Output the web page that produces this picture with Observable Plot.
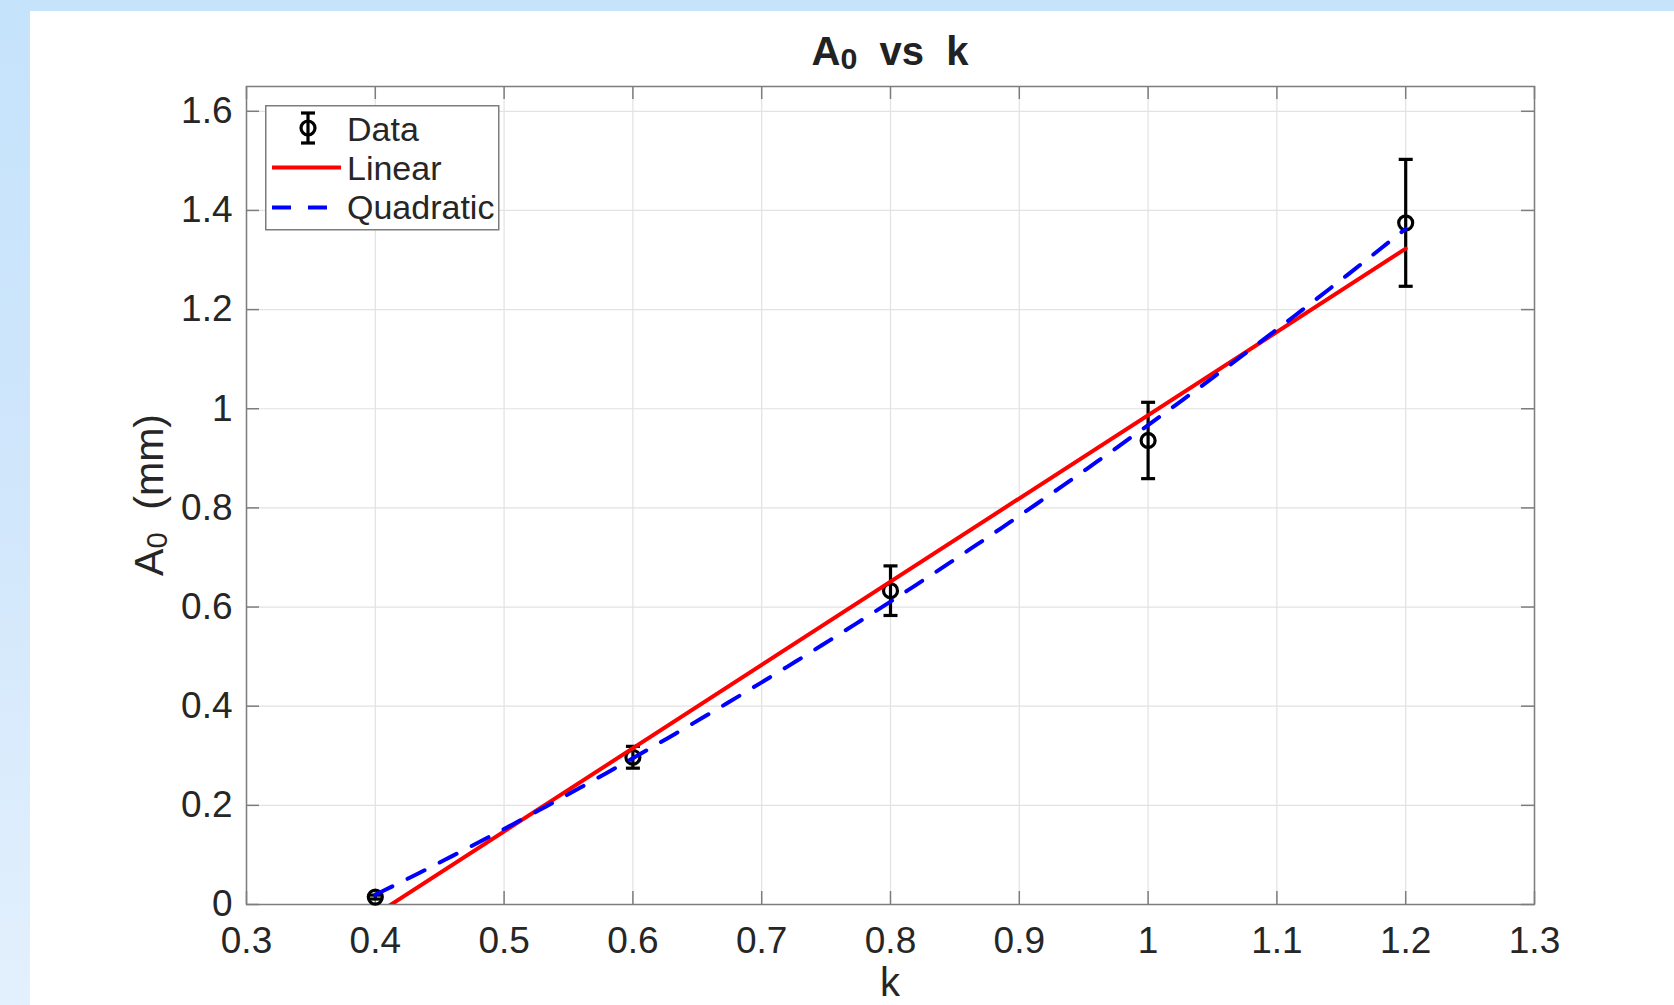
<!DOCTYPE html>
<html>
<head>
<meta charset="utf-8">
<script src="https://cdn.jsdelivr.net/npm/d3@7"></script>
<script src="https://cdn.jsdelivr.net/npm/@observablehq/plot@0.6"></script>
<style>
  html, body { margin: 0; padding: 0; width: 1674px; height: 1005px; overflow: hidden; }
  body {
    background: linear-gradient(to bottom, #c5e3fb 0%, #cfe6fb 45%, #e3f0fd 100%);
    font-family: "Liberation Sans", Arial, Helvetica, sans-serif;
  }
  #panel { position: absolute; left: 30px; top: 11px; width: 1644px; height: 994px; background: #fff; }
  #title {
    position: absolute; left: 860px; top: 20px; transform: translateX(-50%);
    font-size: 40px; line-height: 40px; font-weight: bold; color: #222;
    white-space: pre;
  }
  #title sub { font-size: 0.76em; line-height: 0; vertical-align: -4px; }
  #chart { position: absolute; left: 0; top: 64px; }
  #legend { position: absolute; left: 235px; top: 94px; }
</style>
</head>
<body>
<div id="panel">
  <div id="title">A<sub>0</sub>  vs  k</div>
  <div id="chart"></div>
  <svg id="legend" width="236" height="127"></svg>
</div>
<script>
// Measurements: amplitude A0 (mm) against k, with error bars
const kValues = [0.4, 0.6, 0.8, 1.0, 1.2];
const a0Values = [0.015, 0.297, 0.633, 0.936, 1.375];
const a0Errors = [0.004, 0.022, 0.05, 0.077, 0.128];

// Axis ticks
const xTicks = [0.3, 0.4, 0.5, 0.6, 0.7, 0.8, 0.9, 1, 1.1, 1.2, 1.3];
const yTicks = [0, 0.2, 0.4, 0.6, 0.8, 1, 1.2, 1.4, 1.6];

const seriesNames = ["Data", "Linear", "Quadratic"];

const rows = kValues.map((k, i) => ({k, a0: a0Values[i], err: a0Errors[i]}));

// Least-squares quadratic fit a0 = c0 + c1 k + c2 k^2
function quadFit(xs, ys) {
  const S = n => d3.sum(xs, x => x ** n);
  const T = n => d3.sum(xs, (x, i) => ys[i] * x ** n);
  const A = [[S(0), S(1), S(2)], [S(1), S(2), S(3)], [S(2), S(3), S(4)]];
  const b = [T(0), T(1), T(2)];
  for (let c = 0; c < 3; c++) {
    for (let r = c + 1; r < 3; r++) {
      const f = A[r][c] / A[c][c];
      for (let j = c; j < 3; j++) A[r][j] -= f * A[c][j];
      b[r] -= f * b[c];
    }
  }
  const x = [0, 0, 0];
  for (let r = 2; r >= 0; r--) {
    let s = b[r];
    for (let j = r + 1; j < 3; j++) s -= A[r][j] * x[j];
    x[r] = s / A[r][r];
  }
  return x;
}
const qc = quadFit(kValues, a0Values);
const [kMin, kMax] = d3.extent(kValues);
const quadCurve = d3.range(0, 121).map(i => {
  const k = kMin + (kMax - kMin) * i / 120;
  return {k, a0: qc[0] + qc[1] * k + qc[2] * k * k};
});

const W = 1644, H = 930;
const mL = 216, mR = 140, mT = 11, mB = 101;
const innerW = W - mL - mR, innerH = H - mT - mB;
const tickLen = 13;
const axisColor = "#7d7d7d";
const gridColor = "#e2e2e2";
const fmt = d => String(d);

// Horizontal cap for the error bars
const capSymbol = {draw(ctx) { ctx.moveTo(-7, 0); ctx.lineTo(7, 0); }};

const chart = Plot.plot({
  width: W,
  height: H,
  marginLeft: mL,
  marginRight: mR,
  marginTop: mT,
  marginBottom: mB,
  style: {fontFamily: '"Liberation Sans", Arial, Helvetica, sans-serif', fontSize: "37px", color: "#262626", background: "transparent"},
  x: {domain: [0.3, 1.3], axis: null},
  y: {domain: [0, 1.65], axis: null},
  marks: [
    Plot.gridX(xTicks, {stroke: gridColor, strokeOpacity: 1, strokeWidth: 1.2}),
    Plot.gridY(yTicks, {stroke: gridColor, strokeOpacity: 1, strokeWidth: 1.2}),
    Plot.frame({stroke: axisColor, strokeWidth: 1.5}),
    // inward ticks on all four sides
    Plot.tickX(xTicks, {x: d => d, insetTop: innerH - tickLen, stroke: axisColor, strokeWidth: 1.5}),
    Plot.tickX(xTicks, {x: d => d, insetBottom: innerH - tickLen, stroke: axisColor, strokeWidth: 1.5}),
    Plot.tickY(yTicks, {y: d => d, insetRight: innerW - tickLen, stroke: axisColor, strokeWidth: 1.5}),
    Plot.tickY(yTicks, {y: d => d, insetLeft: innerW - tickLen, stroke: axisColor, strokeWidth: 1.5}),
    Plot.axisX({ticks: xTicks, tickSize: 0, tickPadding: 22, tickFormat: fmt, label: null}),
    Plot.axisY({ticks: yTicks, tickSize: 0, tickPadding: 14, tickFormat: fmt, label: null}),
    // data with error bars
    Plot.ruleX(rows, {x: "k", y1: d => d.a0 - d.err, y2: d => d.a0 + d.err, stroke: "#000", strokeWidth: 3.2}),
    Plot.dot(rows, {x: "k", y: d => d.a0 - d.err, symbol: capSymbol, stroke: "#000", strokeWidth: 3.2, fill: "none"}),
    Plot.dot(rows, {x: "k", y: d => d.a0 + d.err, symbol: capSymbol, stroke: "#000", strokeWidth: 3.2, fill: "none"}),
    Plot.dot(rows, {x: "k", y: "a0", r: 7, stroke: "#000", strokeWidth: 3.2, fill: "none"}),
    // fits
    Plot.linearRegressionY(rows, {x: "k", y: "a0", ci: 0, stroke: "#ff0000", strokeWidth: 4, clip: true}),
    Plot.line(quadCurve, {x: "k", y: "a0", stroke: "#0000ff", strokeWidth: 4, strokeDasharray: "19,17", clip: true})
  ]
});
document.getElementById("chart").appendChild(chart);

// Axis labels with subscripts
const svg = d3.select(chart);
svg.append("text")
  .attr("x", mL + innerW / 2)
  .attr("y", 921)
  .attr("text-anchor", "middle")
  .attr("font-size", 40)
  .attr("fill", "#262626")
  .text("k");

const yl = svg.append("text")
  .attr("transform", `translate(133,${mT + innerH / 2}) rotate(-90)`)
  .attr("text-anchor", "middle")
  .attr("font-size", 41)
  .attr("fill", "#262626")
  .style("white-space", "pre");
yl.append("tspan").text("A");
yl.append("tspan").attr("font-size", 29).attr("dy", 4).text("0");
yl.append("tspan").attr("dy", -4).text("  (mm)");

// Legend
const lg = d3.select("#legend")
  .attr("font-family", '"Liberation Sans", Arial, Helvetica, sans-serif');
lg.append("rect").attr("x", 0.75).attr("y", 0.75).attr("width", 233).attr("height", 124)
  .attr("fill", "#fff").attr("stroke", axisColor).attr("stroke-width", 1.5);
// Data entry: error bar marker
const mk = lg.append("g").attr("stroke", "#000").attr("stroke-width", 3.2).attr("fill", "none");
mk.append("line").attr("x1", 43).attr("x2", 43).attr("y1", 8).attr("y2", 38);
mk.append("line").attr("x1", 36).attr("x2", 50).attr("y1", 8).attr("y2", 8);
mk.append("line").attr("x1", 36).attr("x2", 50).attr("y1", 38).attr("y2", 38);
mk.append("circle").attr("cx", 43).attr("cy", 23).attr("r", 7);
// Linear entry
lg.append("line").attr("x1", 7).attr("x2", 76).attr("y1", 62.5).attr("y2", 62.5)
  .attr("stroke", "#ff0000").attr("stroke-width", 4);
// Quadratic entry
lg.append("line").attr("x1", 7).attr("x2", 76).attr("y1", 102.5).attr("y2", 102.5)
  .attr("stroke", "#0000ff").attr("stroke-width", 4).attr("stroke-dasharray", "19,17");
const baselines = [36, 75, 114];
seriesNames.forEach((name, i) => {
  lg.append("text").attr("x", 82).attr("y", baselines[i])
    .attr("font-size", 34).attr("fill", "#262626").text(name);
});
</script>
</body>
</html>
